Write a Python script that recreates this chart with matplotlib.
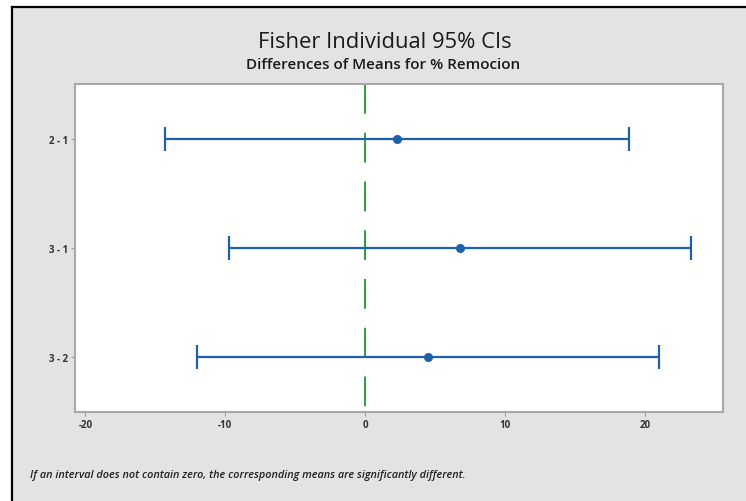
import numpy as np
import matplotlib
matplotlib.use("Agg")
from matplotlib import pyplot as plt
from matplotlib.patches import Rectangle
from matplotlib.lines import Line2D
import matplotlib.transforms as mtransforms

# data
labels = ["2 - 1", "3 - 1", "3 - 2"]
centers = [2.3, 6.8, 4.5]
lowers = [-14.3, -9.7, -12.0]
uppers = [18.9, 23.3, 21.05]
xticks = [-20, -10, 0, 10, 20]

title = "Fisher Individual 95% CIs"
subtitle = "Differences of Means for % Remocion"
footnote = "If an interval does not contain zero, the corresponding means are significantly different."

bg = "#e3e3e3"
blue = "#1e5fae"
green = "#1a9a2a"

plt.rcParams['font.family'] = ['Open Sans', 'DejaVu Sans']

fig = plt.figure(figsize=(7.46, 5.02), dpi=100, facecolor=bg)
W, H = 746.0, 502.0

# white margin and black frame like the screenshot crop
fig.patches.append(Rectangle((0, 1 - 7.5 / H), 1, 7.5 / H, transform=fig.transFigure,
                             facecolor="white", edgecolor="none", zorder=0))
fig.patches.append(Rectangle((0, 0), 11 / W, 1, transform=fig.transFigure,
                             facecolor="white", edgecolor="none", zorder=0))
fig.add_artist(Line2D([11.5 / W, 11.5 / W], [0, 1 - 7.5 / H], transform=fig.transFigure,
                      color="black", lw=1.6))
fig.add_artist(Line2D([11.5 / W, 1], [1 - 7.5 / H, 1 - 7.5 / H], transform=fig.transFigure,
                      color="black", lw=1.6))

ax = fig.add_axes([75 / W, 1 - 413 / H, (723 - 75) / W, (413 - 85) / H])
ax.set_facecolor("white")

y = np.arange(1, len(labels) + 1)
c = np.array(centers)
lo = c - np.array(lowers)
hi = np.array(uppers) - c
ax.errorbar(c, y, xerr=[lo, hi], fmt="none", ecolor=blue,
            elinewidth=1.6, capsize=8.5, capthick=1.6, zorder=3)
ax.plot(c, y, "o", color=blue, ms=5.5, zorder=4)

# reference line at zero, dashes start at the top of the plot
trans = mtransforms.blended_transform_factory(ax.transData, ax.transAxes)
ax.plot([0, 0], [1, 0], transform=trans, color=green, lw=1.3, dashes=(16.5, 10.5), zorder=2)

ax.set_xlim(-20.75, 25.6)
ax.set_ylim(3.5, 0.5)
ax.set_yticks(y)
ax.set_yticklabels(labels, fontsize=7, fontweight="bold", color="#333333")
ax.set_xticks(xticks)
ax.set_xticklabels([str(t) for t in xticks], fontsize=7, fontweight="bold", color="#333333")
ax.tick_params(axis="both", length=3, width=0.8, color="#9a9a9a", pad=2)

for s in ax.spines.values():
    s.set_color("#a8a8a8")
    s.set_linewidth(1.5)

fig.text(385 / W, 1 - 42 / H, title, ha="center", va="center", fontsize=15.8, color="#1a1a1a")
fig.text(383 / W, 1 - 65 / H, subtitle, ha="center", va="center", fontsize=11,
         fontweight="semibold", color="#1a1a1a")
fig.text(30 / W, 1 - 476 / H, footnote, ha="left", va="center", fontsize=7.8,
         style="italic", fontweight="semibold", color="#222222")

fig.savefig("out.png", dpi=100, facecolor=bg)
